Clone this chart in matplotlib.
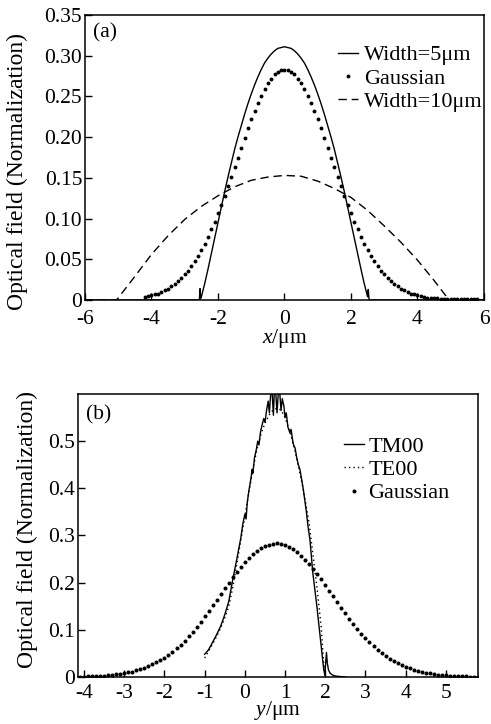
import numpy as np
import matplotlib
matplotlib.use("Agg")
import matplotlib.pyplot as plt

plt.rcParams['font.family'] = ['Liberation Serif', 'DejaVu Serif']
plt.rcParams['mathtext.fontset'] = 'custom'
plt.rcParams['mathtext.rm'] = 'Liberation Serif'
plt.rcParams['mathtext.it'] = 'Liberation Serif:italic'
plt.rcParams['axes.unicode_minus'] = False

# ---------------- panel (a) data ----------------
# Width = 5 um (solid)
xa_w5 = [-6.0, -2.6, -2.56, -2.54, -2.52, -2.5, -2.4, -2.3, -2.2, -2.1, -2.0, -1.9, -1.8, -1.7,
         -1.6, -1.5, -1.4, -1.3, -1.2, -1.1, -1.0, -0.9, -0.8, -0.7, -0.6, -0.5, -0.4, -0.3,
         -0.2, -0.1, 0.0, 0.1, 0.2, 0.3, 0.4, 0.5, 0.6, 0.7, 0.8, 0.9, 1.0, 1.1, 1.2, 1.3, 1.4,
         1.5, 1.6, 1.7, 1.8, 1.9, 2.0, 2.1, 2.2, 2.3, 2.4, 2.5, 2.52, 2.54, 2.56, 2.6, 6.0]
ya_w5 = [0.0, 0.0, 0.0, 0.014, 0.002, 0.004, 0.020, 0.038, 0.057, 0.076, 0.095, 0.114, 0.133, 0.151,
         0.168, 0.185, 0.200, 0.214, 0.228, 0.241, 0.253, 0.264, 0.274, 0.283, 0.291, 0.297, 0.302, 0.306,
         0.309, 0.310, 0.311, 0.310, 0.309, 0.306, 0.302, 0.297, 0.291, 0.283, 0.274, 0.264, 0.253, 0.241,
         0.228, 0.214, 0.200, 0.185, 0.168, 0.151, 0.133, 0.114, 0.095, 0.076, 0.057, 0.038, 0.020,
         0.004, 0.013, 0.002, 0.0, 0.0, 0.0]

# Width = 10 um (dashed)
xa_w10 = [-6.0, -5.5, -5.05, -4.5, -4.0, -3.5, -3.0, -2.5, -2.0, -1.5, -1.0, -0.5, 0.0,
          0.5, 1.0, 1.5, 2.0, 2.5, 3.0, 3.5, 4.0, 4.5, 4.95, 5.5, 6.0]
ya_w10 = [0.0, 0.0, 0.0, 0.029, 0.056, 0.079, 0.099, 0.115, 0.128, 0.139, 0.147, 0.151, 0.153,
          0.152, 0.146, 0.137, 0.126, 0.110, 0.091, 0.071, 0.049, 0.024, 0.0, 0.0, 0.0]

# Gaussian (dots), x from -4.2 to 5.8 every 0.1
xa_gauss = np.round(np.arange(-4.2, 5.85, 0.1), 2)
ya_gauss = [0.004, 0.005, 0.006, 0.007, 0.008, 0.010, 0.012, 0.014, 0.017, 0.020, 0.023, 0.027,
            0.032, 0.036, 0.042, 0.048, 0.054, 0.062, 0.069, 0.078, 0.087, 0.096, 0.107, 0.117,
            0.128, 0.140, 0.151, 0.163, 0.175, 0.187, 0.199, 0.211, 0.222, 0.232, 0.242, 0.251,
            0.259, 0.266, 0.272, 0.277, 0.280, 0.282, 0.283, 0.282, 0.280, 0.277, 0.272, 0.266,
            0.259, 0.251, 0.242, 0.232, 0.222, 0.211, 0.199, 0.187, 0.175, 0.163, 0.151, 0.140,
            0.128, 0.117, 0.107, 0.096, 0.087, 0.078, 0.069, 0.062, 0.054, 0.048, 0.042, 0.036,
            0.032, 0.027, 0.023, 0.020, 0.017, 0.014, 0.012, 0.010, 0.008, 0.007, 0.006, 0.005,
            0.004, 0.003, 0.003, 0.002, 0.002, 0.001, 0.001, 0.001, 0.001, 0.001, 0.001, 0.001,
            0.001, 0.001, 0.001, 0.001, 0.001]

# ---------------- panel (b) data ----------------
xb_tm = [-1.0, -0.9, -0.8, -0.7, -0.6, -0.5, -0.4, -0.3, -0.2, -0.1, -0.05, 0.0, 0.03, 0.06, 0.1,
         0.15, 0.18, 0.2, 0.24, 0.28, 0.32, 0.35, 0.39, 0.43, 0.47, 0.50, 0.54, 0.58, 0.61, 0.64,
         0.68, 0.71, 0.73, 0.77, 0.80, 0.83, 0.87, 0.90, 0.93, 0.97, 1.00, 1.03, 1.07, 1.12, 1.15,
         1.20, 1.25, 1.29, 1.33, 1.37, 1.41, 1.45, 1.49, 1.53, 1.57, 1.62, 1.69, 1.79, 1.88, 1.96,
         1.99, 2.01, 2.03, 2.05, 2.08, 2.12, 2.18, 2.25, 2.35, 2.5]
yb_tm = [0.048, 0.058, 0.074, 0.090, 0.108, 0.132, 0.160, 0.207, 0.250, 0.295, 0.325, 0.345, 0.335,
         0.370, 0.395, 0.420, 0.440, 0.432, 0.465, 0.480, 0.500, 0.492, 0.520, 0.535, 0.548, 0.540,
         0.565, 0.585, 0.560, 0.598, 0.600, 0.555, 0.600, 0.600, 0.560, 0.600, 0.600, 0.565, 0.590,
         0.575, 0.550, 0.560, 0.530, 0.518, 0.525, 0.495, 0.485, 0.465, 0.450, 0.440, 0.420, 0.400,
         0.375, 0.350, 0.320, 0.290, 0.221, 0.151, 0.080, 0.017, 0.004, 0.030, 0.052, 0.030, 0.015,
         0.008, 0.004, 0.002, 0.001, 0.0]

xb_te = [-1.0, -0.9, -0.8, -0.7, -0.6, -0.5, -0.4, -0.3, -0.2, -0.1, 0.0, 0.1, 0.2, 0.3, 0.4, 0.5,
         0.6, 0.7, 0.8, 0.9, 1.0, 1.1, 1.2, 1.3, 1.4, 1.5, 1.6, 1.7, 1.8, 1.9, 1.95, 2.0]
yb_te = [0.040, 0.055, 0.070, 0.086, 0.104, 0.125, 0.150, 0.190, 0.240, 0.290, 0.340, 0.392, 0.440,
         0.483, 0.515, 0.538, 0.555, 0.566, 0.570, 0.566, 0.550, 0.525, 0.495, 0.460, 0.420, 0.375,
         0.325, 0.255, 0.185, 0.105, 0.040, 0.0]

xb_gauss = np.round(np.arange(-4.1, 5.85, 0.1), 2)
yb_gauss = [0.0007, 0.0009, 0.0012, 0.0015, 0.0019, 0.0023, 0.0029, 0.0036, 0.0044, 0.0054,
            0.0066, 0.0080, 0.0096, 0.0115, 0.0137, 0.0163, 0.0192, 0.0226, 0.0264, 0.0307,
            0.0356, 0.0410, 0.0470, 0.0536, 0.0608, 0.0687, 0.0772, 0.0863, 0.0960, 0.1063,
            0.1171, 0.1283, 0.1399, 0.1518, 0.1638, 0.1759, 0.1880, 0.1999, 0.2115, 0.2226,
            0.2332, 0.2431, 0.2521, 0.2602, 0.2672, 0.2730, 0.2775, 0.2807, 0.2825, 0.2830,
            0.2820, 0.2796, 0.2758, 0.2708, 0.2645, 0.2571, 0.2486, 0.2393, 0.2291, 0.2182,
            0.2069, 0.1952, 0.1832, 0.1710, 0.1590, 0.1470, 0.1352, 0.1238, 0.1127, 0.1021,
            0.0921, 0.0826, 0.0737, 0.0655, 0.0579, 0.0509, 0.0445, 0.0388, 0.0336, 0.0290,
            0.0248, 0.0212, 0.0180, 0.0152, 0.0128, 0.0107, 0.0089, 0.0074, 0.0061, 0.0050,
            0.0041, 0.0033, 0.0027, 0.0021, 0.0017, 0.0014, 0.0011, 0.0009, 0.0007, 0.0005]

a_yticks = [0, 0.05, 0.10, 0.15, 0.20, 0.25, 0.30, 0.35]
a_yticklabels = ['0', '0.05', '0.10', '0.15', '0.20', '0.25', '0.30', '0.35']
a_xticks = [-6, -4, -2, 0, 2, 4, 6]
b_yticks = [0, 0.1, 0.2, 0.3, 0.4, 0.5]
b_yticklabels = ['0', '0.1', '0.2', '0.3', '0.4', '0.5']
b_xticks = [-4, -3, -2, -1, 0, 1, 2, 3, 4, 5]

fs = 15.5
fig = plt.figure(figsize=(4.91, 7.24), dpi=100)
ax1 = fig.add_axes([0.1731, 0.5856, 0.8126, 0.3937])
ax2 = fig.add_axes([0.1589, 0.0650, 0.8147, 0.3908])

for ax in (ax1, ax2):
    for s in ax.spines.values():
        s.set_linewidth(1.1)
    ax.tick_params(direction='in', length=5, width=1, labelsize=fs, top=False, right=False)
    ax.tick_params(axis='y', pad=2)
ax1.tick_params(axis='x', pad=7)
ax2.tick_params(axis='x', pad=5)

# panel (a)
ax1.plot(xa_w5, ya_w5, '-', color='k', lw=1.0, label='Width=5μm')
ax1.plot(xa_gauss, ya_gauss, 'o', color='k', ms=2.8, mew=0, label='Gaussian')
ax1.plot(xa_w10, ya_w10, color='k', lw=1.0, dashes=(6, 3.5), label='Width=10μm')
ax1.set_xlim(-6, 6)
ax1.set_ylim(0, 0.35)
ax1.set_xticks(a_xticks)
ax1.set_yticks(a_yticks)
ax1.set_yticklabels(a_yticklabels)
ax1.set_xlabel('$x$/μm', fontsize=fs, labelpad=-1)
ax1.set_ylabel('Optical field (Normalization)', fontsize=17)
ax1.yaxis.set_label_coords(-0.143, 0.45)
ax1.text(0.02, 0.97, '(a)', transform=ax1.transAxes, fontsize=fs, va='top', ha='left')
ax1.legend(loc='upper left', bbox_to_anchor=(0.635, 0.895), frameon=False, fontsize=16,
           handlelength=0.9, handletextpad=0.25, labelspacing=0.12, borderaxespad=0,
           borderpad=0, numpoints=1)

# panel (b)
ax2.plot(xb_tm, yb_tm, '-', color='k', lw=1.0, label='TM00')
ax2.plot(xb_te, yb_te, color='k', lw=1.0, linestyle=(0, (1, 2.2)), label='TE00')
ax2.plot(xb_gauss, yb_gauss, 'o', color='k', ms=2.9, mew=0, label='Gaussian')
ax2.set_xlim(-4.15, 5.8)
ax2.set_ylim(0, 0.6)
ax2.set_xticks(b_xticks)
ax2.set_yticks(b_yticks)
ax2.set_yticklabels(b_yticklabels)
ax2.set_xlabel('$y$/μm', fontsize=fs, labelpad=-3)
ax2.set_ylabel('Optical field (Normalization)', fontsize=17)
ax2.yaxis.set_label_coords(-0.1, 0.52)
ax2.text(0.02, 0.96, '(b)', transform=ax2.transAxes, fontsize=fs, va='top', ha='left')
ax2.legend(loc='upper left', bbox_to_anchor=(0.665, 0.85), frameon=False, fontsize=16,
           handlelength=0.9, handletextpad=0.2, labelspacing=0.12, borderaxespad=0,
           borderpad=0, numpoints=1)

fig.savefig('out.png', dpi=100)
